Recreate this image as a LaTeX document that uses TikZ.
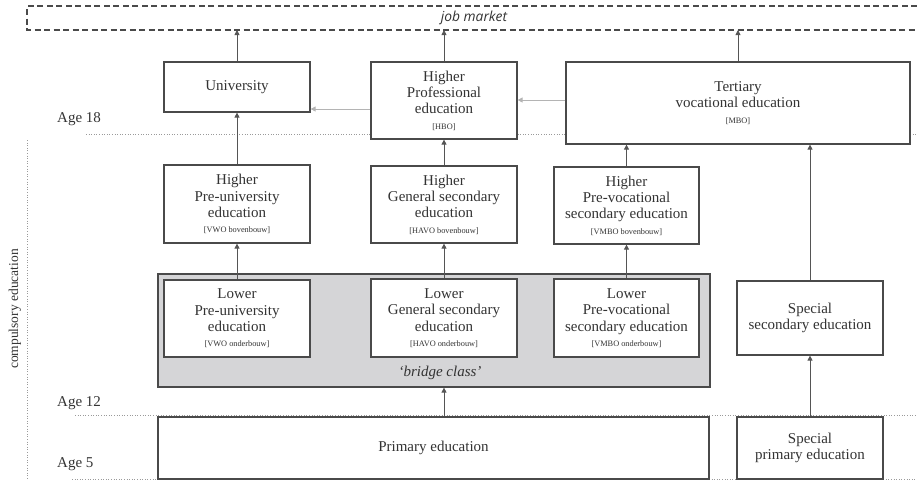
\documentclass[tikz,border=0pt]{standalone}
\usepackage{fontspec}
\setmainfont{Liberation Serif}
\newfontfamily\jmfont{Open Sans}
\usetikzlibrary{arrows.meta}
\definecolor{boxline}{HTML}{4A4A4A}
\definecolor{txt}{HTML}{333333}
\definecolor{arr}{HTML}{555555}
\definecolor{lightarr}{HTML}{B4B4B4}
\definecolor{bridgefill}{HTML}{D5D5D7}
\definecolor{dotline}{HTML}{9A9A9A}
\tikzset{
  box/.style={draw=boxline, line width=1.2pt, fill=white, inner sep=0pt, align=center,
    text=txt, font=\fontsize{15}{16.3}\selectfont},
  up/.style={draw=arr, line width=0.8pt, -{Triangle[width=5pt,length=5pt]}},
  side/.style={draw=lightarr, line width=0.8pt, -{Triangle[width=5pt,length=5pt]}},
  agel/.style={anchor=west, text=txt, font=\fontsize{15}{16}\selectfont, inner sep=0pt},
  ageline/.style={draw=dotline, dotted, line width=0.6pt}
}
\newcommand{\sm}[1]{\\[-1pt]{\fontsize{8.3}{9.5}\selectfont #1}}
\begin{document}
\begin{tikzpicture}[x=1pt,y=-1pt]
\useasboundingbox (0,0) rectangle (917,480);
% job market
\draw[boxline, dashed, dash pattern=on 6pt off 3.5pt, line width=1.1pt] (917,6) -- (27,6) -- (27,30) -- (917,30);
\node[text=txt, font=\jmfont\itshape\fontsize{13.8}{15}\selectfont, inner sep=0pt] (job) at (474,18) {job market};
\coordinate (jobb) at (474,30);
% age lines
\draw[ageline] (86,134) -- (917,134);
\draw[ageline] (75,415) -- (917,415);
\draw[ageline] (72,479.3) -- (917,479.3);
\node[agel] (a18) at (57,119) {Age 18};
\node[agel] (a12) at (57,403) {Age 12};
\node[agel] (a5) at (57,464) {Age 5};
% compulsory
\draw[ageline] (27,140) -- (27,480);
\node[rotate=90, text=txt, font=\fontsize{13.5}{15}\selectfont, inner sep=0pt] (comp) at (15,309) {compulsory education};
% bridge class
\node[draw=boxline, line width=1.2pt, fill=bridgefill, minimum width=552pt, minimum height=113pt, inner sep=0pt] (bridge) at (434,330.5) {};
\node[text=txt, font=\itshape\fontsize{15}{16}\selectfont, inner sep=0pt] (bclabel) at (440,373) {‘bridge class’};
% boxes
\node[box, minimum width=146pt, minimum height=50pt] (univ) at (237,87) {University};
\node[box, minimum width=146pt, minimum height=77pt] (hbo) at (444,100.5) {Higher\\Professional\\education\sm{[HBO]}};
\node[box, minimum width=344pt, minimum height=82pt] (mbo) at (738,103) {Tertiary\\vocational education\sm{[MBO]}};
\node[box, minimum width=146pt, minimum height=78pt] (hvwo) at (237,204) {Higher\\Pre-university\\education\sm{[VWO bovenbouw]}};
\node[box, minimum width=146pt, minimum height=77pt] (hhavo) at (444,204.5) {Higher\\General secondary\\education\sm{[HAVO bovenbouw]}};
\node[box, minimum width=145pt, minimum height=77pt] (hvmbo) at (626.5,205.5) {Higher\\Pre-vocational\\secondary education\sm{[VMBO bovenbouw]}};
\node[box, minimum width=146pt, minimum height=77pt] (lvwo) at (237,318.5) {Lower\\Pre-university\\education\sm{[VWO onderbouw]}};
\node[box, minimum width=146pt, minimum height=78pt] (lhavo) at (444,318) {Lower\\General secondary\\education\sm{[HAVO onderbouw]}};
\node[box, minimum width=145pt, minimum height=78pt] (lvmbo) at (626.5,318) {Lower\\Pre-vocational\\secondary education\sm{[VMBO onderbouw]}};
\node[box, minimum width=146pt, minimum height=74pt] (ssec) at (810,318) {Special\\secondary education};
\node[box, minimum width=551pt, minimum height=62pt] (prim) at (433.5,448) {Primary education};
\node[box, minimum width=146pt, minimum height=62pt] (sprim) at (810,448) {Special\\primary education};
% arrows to job market
\draw[up] (univ.north) -- (univ.north |- jobb);
\draw[up] (hbo.north) -- (hbo.north |- jobb);
\draw[up] (mbo.north) -- (mbo.north |- jobb);
% horizontal
\draw[side] (hbo.west |- 0,109) -- (univ.east |- 0,109);
\draw[side] (mbo.west |- 0,100) -- (hbo.east |- 0,100);
% vertical
\draw[up] (hvwo) -- (univ);
\draw[up] (hhavo) -- (hbo);
\draw[up] (hvmbo.north) -- (hvmbo.north |- mbo.south);
\draw[up] (ssec.north) -- (ssec.north |- mbo.south);
\draw[up] (lvwo) -- (hvwo);
\draw[up] (lhavo) -- (hhavo);
\draw[up] (lvmbo) -- (hvmbo);
\draw[up] (prim.north -| lhavo.south) -- (lhavo.south |- bridge.south);
\draw[up] (sprim) -- (ssec);
\end{tikzpicture}
\end{document}
